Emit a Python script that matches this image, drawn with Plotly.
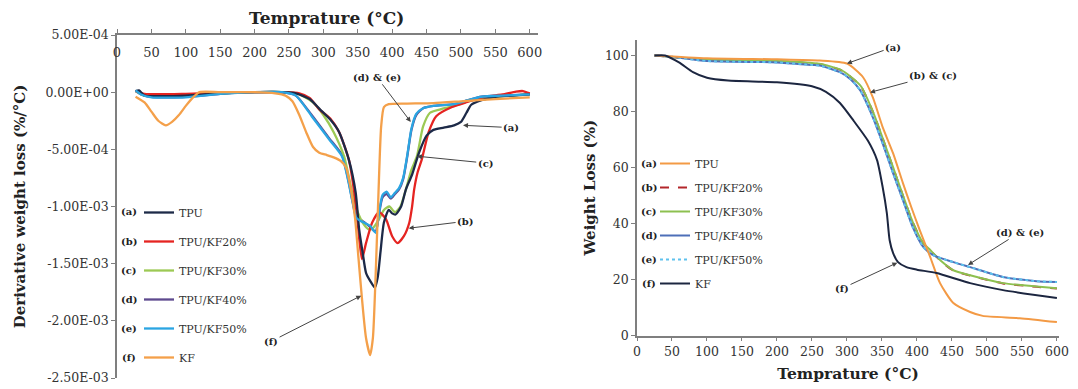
import plotly.graph_objects as go

# ---------------- DATA: left panel (DTG) ----------------
dtg_names = ["TPU", "TPU/KF20%", "TPU/KF30%", "TPU/KF40%", "TPU/KF50%", "KF"]
dtg_tags = ["(a)", "(b)", "(c)", "(d)", "(e)", "(f)"]

tpu_T = [27, 32, 40, 60, 100, 150, 200, 240, 260, 280, 295, 310, 323, 337, 347, 352, 357, 362, 368, 375, 379, 383, 388, 395, 400, 405, 413, 420, 429, 439, 450, 460, 475, 490, 500, 508, 515, 530, 550, 575, 600]
tpu_d = [0.1e-4, 0.15e-4, -0.3e-4, -0.35e-4, -0.3e-4, -0.1e-4, 0, 0, -0.1e-4, -0.6e-4, -1.5e-4, -2.4e-4, -3.5e-4, -5.9e-4, -8.8e-4, -1.2e-3, -1.4e-3, -1.58e-3, -1.65e-3, -1.71e-3, -1.62e-3, -1.4e-3, -1.14e-3, -1.03e-3, -1.06e-3, -1.07e-3, -1.0e-3, -8.5e-4, -7.2e-4, -5.3e-4, -3.8e-4, -3.3e-4, -3.1e-4, -2.9e-4, -2.6e-4, -1.8e-4, -1.1e-4, -0.7e-4, -0.4e-4, -0.3e-4, -0.2e-4]

kf20_T = [27, 40, 100, 150, 200, 245, 265, 280, 294, 310, 323, 337, 345, 350, 356, 362, 371, 381, 391, 400, 408, 417, 425, 429, 432, 437, 443, 453, 464, 487, 507, 536, 560, 580, 590, 600]
kf20_d = [0.1e-4, -0.15e-4, -0.15e-4, -0.05e-4, 0, 0, -0.1e-4, -0.5e-4, -1.5e-4, -2.3e-4, -3.5e-4, -5.9e-4, -8.8e-4, -1.15e-3, -1.46e-3, -1.32e-3, -1.14e-3, -1.05e-3, -1.11e-3, -1.26e-3, -1.32e-3, -1.26e-3, -1.14e-3, -1.0e-3, -8.5e-4, -7.0e-4, -5.9e-4, -3.5e-4, -2.1e-4, -1.3e-4, -0.9e-4, -0.4e-4, -0.2e-4, 0.05e-4, 0.1e-4, -0.1e-4]

kf30_T = [27, 40, 100, 150, 200, 245, 265, 285, 300, 315, 330, 342, 350, 358, 366, 372, 380, 388, 396, 404, 412, 420, 428, 436, 445, 455, 470, 490, 510, 550, 600]
kf30_d = [0.1e-4, -0.3e-4, -0.3e-4, -0.1e-4, 0, 0, -0.2e-4, -0.9e-4, -2.0e-4, -3.5e-4, -5.6e-4, -8.8e-4, -1.05e-3, -1.15e-3, -1.2e-3, -1.19e-3, -1.12e-3, -1.03e-3, -1.0e-3, -1.05e-3, -1.0e-3, -8.5e-4, -6.8e-4, -5.6e-4, -3.0e-4, -1.8e-4, -1.5e-4, -1.2e-4, -0.8e-4, -0.4e-4, -0.2e-4]

kf40_T = [27, 35, 50, 100, 150, 200, 240, 260, 283, 308, 327, 337, 342, 348, 355, 362, 368, 376, 381, 386, 392, 398, 404, 410, 416, 422, 428, 435, 445, 460, 490, 510, 530, 560, 600]
kf40_d = [0.1e-4, -0.2e-4, -0.4e-4, -0.4e-4, -0.15e-4, 0, 0, -0.3e-4, -2.0e-4, -4.0e-4, -5.5e-4, -7.9e-4, -9.4e-4, -1.09e-3, -1.12e-3, -1.15e-3, -1.18e-3, -1.22e-3, -1.06e-3, -9.2e-4, -8.9e-4, -9.3e-4, -8.9e-4, -8.5e-4, -7.6e-4, -5.6e-4, -3.3e-4, -2.0e-4, -1.4e-4, -1.2e-4, -1.05e-4, -0.7e-4, -0.4e-4, -0.3e-4, -0.2e-4]

kf50_T = [27, 35, 50, 100, 150, 200, 240, 260, 283, 308, 327, 337, 342, 348, 355, 362, 368, 376, 381, 386, 392, 398, 404, 410, 416, 422, 428, 435, 445, 460, 490, 510, 530, 560, 600]
kf50_d = [0.15e-4, -0.2e-4, -0.45e-4, -0.45e-4, -0.15e-4, 0, 0, -0.3e-4, -2.1e-4, -4.1e-4, -5.6e-4, -8.0e-4, -9.5e-4, -1.1e-3, -1.13e-3, -1.15e-3, -1.17e-3, -1.23e-3, -1.05e-3, -9.0e-4, -8.7e-4, -9.2e-4, -8.8e-4, -8.4e-4, -7.5e-4, -5.5e-4, -3.2e-4, -1.9e-4, -1.4e-4, -1.2e-4, -1.05e-4, -0.7e-4, -0.4e-4, -0.3e-4, -0.2e-4]

kf_T = [27, 40, 50, 60, 71, 80, 90, 100, 110, 120, 150, 200, 230, 245, 255, 265, 275, 285, 294, 305, 315, 325, 333, 340, 346, 351, 356, 362, 368, 372, 376, 380, 384, 388, 395, 420, 460, 500, 550, 600]
kf_d = [-0.4e-4, -0.9e-4, -1.7e-4, -2.5e-4, -2.9e-4, -2.6e-4, -2.0e-4, -1.2e-4, -0.5e-4, 0, 0, 0, -0.1e-4, -0.3e-4, -0.8e-4, -2.0e-4, -3.5e-4, -4.8e-4, -5.3e-4, -5.5e-4, -5.7e-4, -6.0e-4, -6.6e-4, -8.5e-4, -1.1e-3, -1.45e-3, -1.8e-3, -2.15e-3, -2.3e-3, -2.15e-3, -1.6e-3, -9.0e-4, -3.0e-4, -1.3e-4, -1.05e-4, -1.0e-4, -0.95e-4, -0.8e-4, -0.6e-4, -0.45e-4]

dtg_yticks = [5e-4, 0, -5e-4, -1e-3, -1.5e-3, -2e-3, -2.5e-3]
dtg_yticktext = ["5.00E-04", "0.00E+00", "-5.00E-04", "-1.00E-03", "-1.50E-03", "-2.00E-03", "-2.50E-03"]
temp_ticks = [0, 50, 100, 150, 200, 250, 300, 350, 400, 450, 500, 550, 600]

# ---------------- DATA: right panel (TGA) ----------------
tga_names = ["TPU", "TPU/KF20%", "TPU/KF30%", "TPU/KF40%", "TPU/KF50%", "KF"]

tga_tpu_T = [25, 100, 200, 261, 300, 323, 337, 351, 366, 380, 392, 404, 419, 433, 452, 476, 494, 547, 600]
tga_tpu_w = [100, 99, 98.6, 98.2, 97.1, 92.2, 85, 74.4, 65, 54.4, 45.8, 37.6, 28, 18.7, 11.6, 8.4, 7.0, 6.2, 4.8]

tga_kf20_T = [25, 100, 200, 261, 290, 305, 320, 337, 351, 366, 380, 394, 409, 419, 435, 452, 476, 523, 571, 600]
tga_kf20_w = [100, 98.4, 97.9, 96.9, 94.9, 92.4, 88.9, 79.9, 70.4, 59.9, 49.9, 40.4, 32.9, 30.4, 26.4, 23.2, 21.4, 18.6, 17.4, 16.8]

tga_kf30_T = [25, 100, 200, 261, 290, 305, 320, 337, 351, 366, 380, 394, 409, 419, 435, 452, 476, 523, 571, 600]
tga_kf30_w = [100, 98.5, 98, 97, 95, 92.5, 89, 80, 70.5, 60, 50, 40.5, 33, 30.5, 26.5, 23.3, 21.5, 18.7, 17.5, 16.9]

tga_kf40_T = [25, 50, 100, 200, 250, 261, 290, 305, 319, 337, 351, 366, 380, 394, 409, 423, 452, 476, 523, 571, 600]
tga_kf40_w = [100, 99.5, 98, 97.5, 96.6, 96.4, 94, 91.5, 87.5, 77.9, 68.6, 57.9, 48.3, 38.7, 31.6, 28.7, 26.2, 24.4, 20.9, 19.4, 19.1]

tga_kf50_T = [25, 50, 100, 200, 250, 261, 290, 305, 319, 337, 351, 366, 380, 394, 409, 423, 452, 476, 523, 571, 600]
tga_kf50_w = [100, 99.5, 98, 97.5, 96.6, 96.4, 94, 91.5, 87.5, 77.9, 68.6, 57.9, 48.3, 38.7, 31.6, 28.7, 26.2, 24.4, 20.9, 19.4, 19.1]

tga_kf_T = [25, 40, 60, 80, 100, 130, 200, 250, 270, 290, 310, 330, 343, 351, 357, 361, 366, 373, 385, 400, 428, 476, 523, 600]
tga_kf_w = [100, 100, 97.5, 94, 92, 91, 90.4, 89, 87, 83, 76.5, 69.5, 62.6, 53, 43.7, 34, 29.4, 26.2, 24.4, 23.5, 22.3, 18.7, 16.2, 13.4]

tga_yticks = [0, 20, 40, 60, 80, 100]

# ---------------- STYLE ----------------
SERIF = "DejaVu Serif"
AXC = "#7f7f7f"
W, H = 1078, 389

dtg_colors = ["#1d2a48", "#e52421", "#9cc954", "#5e4a8e", "#2aa5e2", "#f4a04a"]
tga_colors = ["#f39a45", "#b3262b", "#8dc050", "#4d6fb8", "#5ec2ee", "#1c2640"]
tga_dash = ["solid", "dash", "solid", "solid", "dot", "solid"]

fig = go.Figure()

dtg_series = [(tpu_T, tpu_d), (kf20_T, kf20_d), (kf30_T, kf30_d),
              (kf40_T, kf40_d), (kf50_T, kf50_d), (kf_T, kf_d)]
draw_order = [3, 2, 1, 0, 4, 5]
for i in draw_order:
    t, d = dtg_series[i]
    fig.add_trace(go.Scatter(
        x=t, y=d, mode="lines", name=dtg_names[i],
        line=dict(color=dtg_colors[i], width=2.3, shape="spline", smoothing=0.6),
        xaxis="x", yaxis="y", legend="legend", legendgroup="L%d" % i,
        legendrank=i + 1,
    ))

tga_series = [(tga_tpu_T, tga_tpu_w), (tga_kf20_T, tga_kf20_w), (tga_kf30_T, tga_kf30_w),
              (tga_kf40_T, tga_kf40_w), (tga_kf50_T, tga_kf50_w), (tga_kf_T, tga_kf_w)]
draw_order2 = [1, 2, 3, 4, 0, 5]
for i in draw_order2:
    t, w = tga_series[i]
    fig.add_trace(go.Scatter(
        x=t, y=w, mode="lines", name=tga_names[i],
        line=dict(color=tga_colors[i], width=2, dash=tga_dash[i], shape="spline", smoothing=0.6),
        xaxis="x2", yaxis="y2", legend="legend2", legendgroup="R%d" % i,
        legendrank=i + 1,
    ))

tickfont = dict(family=SERIF, size=12.5, color="#333")
titlefont_l = dict(family=SERIF, size=17, color="#222", weight="bold")
titlefont_ly = dict(family=SERIF, size=15, color="#222", weight="bold")
titlefont_r = dict(family=SERIF, size=15.5, color="#222", weight="bold")

fig.update_layout(
    width=W, height=H,
    margin=dict(l=0, r=0, t=0, b=0),
    paper_bgcolor="white", plot_bgcolor="white",
    xaxis=dict(domain=[117 / W, 538 / W], range=[0, 612], anchor="y", side="top",
               tickvals=temp_ticks, ticks="outside", ticklen=4, tickcolor=AXC,
               ticklabelposition="inside", ticklabeloverflow="allow", ticklabelstandoff=13,
               showline=True, linecolor=AXC, linewidth=1.5, automargin=False,
               showgrid=False, zeroline=False, tickfont=dict(family=SERIF, size=13, color="#333")),
    yaxis=dict(domain=[1 - 378 / H, 1 - 35 / H], range=[-2.5e-3, 5e-4], anchor="x",
               tickvals=dtg_yticks, ticktext=dtg_yticktext, ticks="outside", ticklen=4,
               tickcolor=AXC, showline=True, linecolor=AXC, linewidth=1.5, automargin=False,
               showgrid=False, zeroline=False, tickfont=tickfont,
               title=dict(text="Derivative weight loss (%/°C)", font=titlefont_ly, standoff=16)),
    xaxis2=dict(domain=[637 / W, 1059 / W], range=[0, 603], anchor="y2",
                tickvals=temp_ticks, ticks="outside", ticklen=4, tickcolor=AXC,
                showline=True, linecolor=AXC, linewidth=1.5, showgrid=False, zeroline=False,
                tickfont=tickfont, automargin=False,
                title=dict(text="Temprature (°C)", font=titlefont_r, standoff=10)),
    yaxis2=dict(domain=[1 - 335.5 / H, 1 - 40 / H], range=[0, 105.5], anchor="x2",
                tickvals=tga_yticks, ticks="outside", ticklen=4, tickcolor=AXC,
                showline=True, linecolor=AXC, linewidth=1.5, showgrid=False, zeroline=False,
                tickfont=tickfont, automargin=False,
                title=dict(text="Weight Loss (%)", font=titlefont_ly, standoff=6)),
    legend=dict(x=139 / W, y=1 - 198 / H, xanchor="left", yanchor="top",
                bgcolor="rgba(0,0,0,0)", borderwidth=0, tracegroupgap=10,
                traceorder="grouped",
                font=dict(family=SERIF, size=11, color="#333")),
    legend2=dict(x=655 / W, y=1 - 149 / H, xanchor="left", yanchor="top",
                 bgcolor="rgba(0,0,0,0)", borderwidth=0, tracegroupgap=5,
                 traceorder="grouped",
                 font=dict(family=SERIF, size=11, color="#333")),
    showlegend=True,
)

ann = []
# top axis title of the left panel (placed above the top x axis)
ann.append(dict(text="Temprature (°C)", xref="paper", yref="paper", x=326 / W, y=1 - 18 / H,
                showarrow=False, xanchor="center", yanchor="middle", font=titlefont_l))
lab_font = dict(family=SERIF, size=10, color="#222", weight="bold")
# legend tags
for k, tag in enumerate(dtg_tags):
    ann.append(dict(text=tag, xref="paper", yref="paper", x=129 / W, y=1 - (212 + 29 * k) / H,
                    showarrow=False, xanchor="center", yanchor="middle", font=lab_font))
for k, tag in enumerate(dtg_tags):
    ann.append(dict(text=tag, xref="paper", yref="paper", x=649 / W, y=1 - (163 + 24 * k) / H,
                    showarrow=False, xanchor="center", yanchor="middle", font=lab_font))

arrow_style = dict(showarrow=True, arrowhead=2, arrowsize=1, arrowwidth=1,
                   arrowcolor="#444", font=lab_font)
# left panel callouts: (label, tip_x, tip_y, text_x, text_y)
left_callouts = [("(d) &amp; (e)", 427, -2.6e-4, 378, 1.3e-4),
                 ("(a)", 503, -2.9e-4, 573, -3.1e-4),
                 ("(c)", 436, -5.6e-4, 536, -6.2e-4),
                 ("(b)", 424, -1.19e-3, 506, -1.13e-3),
                 ("(f)", 355, -1.78e-3, 224, -2.18e-3)]
for txt, tx, ty, lx, ly in left_callouts:
    ann.append(dict(text=txt, x=tx, y=ty, ax=lx, ay=ly, xref="x", yref="y",
                    axref="x", ayref="y", **arrow_style))
right_callouts = [("(a)", 300, 97.1, 366, 103),
                  ("(b) &amp; (c)", 333, 86.8, 423, 92.9),
                  ("(d) &amp; (e)", 473, 25.2, 547, 36.8),
                  ("(f)", 372, 26, 293, 16.8)]
for txt, tx, ty, lx, ly in right_callouts:
    ann.append(dict(text=txt, x=tx, y=ty, ax=lx, ay=ly, xref="x2", yref="y2",
                    axref="x2", ayref="y2", **arrow_style))
fig.update_layout(annotations=ann)

fig.write_html("out.html")
